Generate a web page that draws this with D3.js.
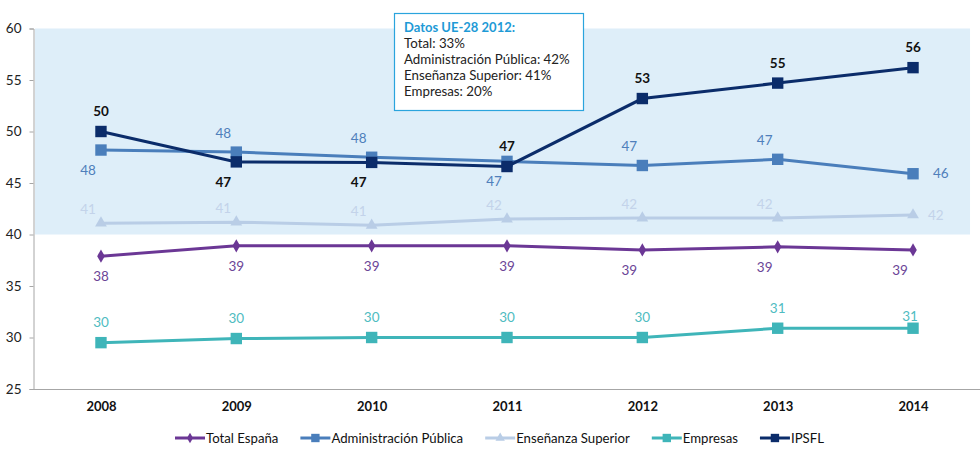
<!DOCTYPE html>
<html>
<head>
<meta charset="utf-8">
<script src="https://cdn.jsdelivr.net/npm/d3@7"></script>
<style>
body { margin: 0; background: #fff; }
svg text { font-family: Lato, "Open Sans", sans-serif; }
</style>
</head>
<body>
<script>
// chart data
var years = ["2008", "2009", "2010", "2011", "2012", "2013", "2014"];
var totalEspana = [37.9, 38.9, 38.9, 38.9, 38.5, 38.8, 38.5];
var adminPublica = [48.2, 48.0, 47.5, 47.1, 46.7, 47.3, 45.9];
var ensSuperior = [41.1, 41.2, 40.9, 41.5, 41.6, 41.6, 41.9];
var empresas = [29.5, 29.9, 30.0, 30.0, 30.0, 30.9, 30.9];
var ipsfl = [50.0, 47.05, 47.0, 46.6, 53.2, 54.7, 56.2];
var yTicks = [25, 30, 35, 40, 45, 50, 55, 60];
var boxTitle = "Datos UE-28 2012:";
var boxLines = ["Total: 33%", "Administración Pública: 42%", "Enseñanza Superior: 41%", "Empresas: 20%"];

// where each data label sits relative to its point
var labelPlace = {
	total: ["b", "b", "b", "b", "bl", "bl", "bl"],
	admin: ["bl", "tl", "tl", "bl", "tl", "tl", "r"],
	ens: ["tls", "tls", "tls", "tls", "tls", "tls", "rs"],
	emp: ["t", "t", "t", "t", "t", "t", "ts"],
	ipsfl: ["t", "bl", "bl", "t", "t", "t", "t"]
};
var offsets = {
	t: [0, -20], ts: [-3, -12], tl: [-13, -19], tls: [-13, -14],
	b: [0, 20], bl: [-13, 20], r: [20, 0], rs: [15, 0]
};

var series = [
	{key: "total", name: "Total España", values: totalEspana, color: "#6b3795", label: "#6b4597", shape: "diamond", bold: false},
	{key: "admin", name: "Administración Pública", values: adminPublica, color: "#4a7ebb", label: "#4f7fbb", shape: "square", bold: false},
	{key: "ens", name: "Enseñanza Superior", values: ensSuperior, color: "#b9cde6", label: "#c3d3ea", shape: "triangle", bold: false},
	{key: "emp", name: "Empresas", values: empresas, color: "#3fb5b9", label: "#4fbcc1", shape: "square", bold: false},
	{key: "ipsfl", name: "IPSFL", values: ipsfl, color: "#0b2c6a", label: "#111111", shape: "square", bold: true}
];

var width = 980, height = 456;

var svg = d3.select("body").append("svg")
	.attr("width", width)
	.attr("height", height);

var x = d3.scalePoint().domain(years).range([33.3, 980.7]).padding(0.5);
var y = d3.scaleLinear().domain([25, 60]).range([389, 28.5]);

// shaded band 40-60
svg.append("rect")
	.attr("x", 35)
	.attr("y", y(60))
	.attr("width", x("2014") + 57 - 35)
	.attr("height", y(40) - y(60))
	.attr("fill", "#deeef9");

// y axis
var yAxis = svg.append("g")
	.attr("transform", "translate(33.5,0)")
	.call(d3.axisLeft(y).tickValues(yTicks).tickSize(4).tickPadding(8));
yAxis.select(".domain").attr("stroke", "#a6a6a6");
yAxis.selectAll(".tick line").attr("stroke", "#a6a6a6");
yAxis.selectAll("text").attr("font-size", 13.5).attr("fill", "#222");

// x axis
var xAxis = svg.append("g")
	.attr("transform", "translate(0,389.5)")
	.call(d3.axisBottom(x).tickSize(0).tickPadding(12));
xAxis.select(".domain").attr("stroke", "#a6a6a6").attr("d", "M33.5,0H980");
xAxis.selectAll("text").attr("font-size", 13).attr("font-weight", "bold").attr("fill", "#111");

function markerPath(shape) {
	if (shape == "diamond") return d3.symbol(d3.symbolDiamond, 50)();
	if (shape == "triangle") return d3.symbol(d3.symbolTriangle, 60)();
	return d3.symbol(d3.symbolSquare, 130)();
}

var line = d3.line()
	.x(function(d, i){ return x(years[i]); })
	.y(function(d){ return y(d); });

series.forEach(function(s){
	var g = svg.append("g");
	g.append("path")
		.attr("d", line(s.values))
		.attr("fill", "none")
		.attr("stroke", s.color)
		.attr("stroke-width", 3);
	g.selectAll("path.m")
		.data(s.values)
		.enter()
		.append("path")
		.attr("class", "m")
		.attr("d", markerPath(s.shape))
		.attr("transform", function(d, i){ return "translate(" + x(years[i]) + "," + y(d) + ")"; })
		.attr("fill", s.color);
	g.selectAll("text")
		.data(s.values)
		.enter()
		.append("text")
		.attr("x", function(d, i){ return x(years[i]) + offsets[labelPlace[s.key][i]][0]; })
		.attr("y", function(d, i){ return y(d) + offsets[labelPlace[s.key][i]][1]; })
		.attr("dy", "0.35em")
		.attr("text-anchor", function(d, i){ return labelPlace[s.key][i].charAt(0) == "r" ? "start" : "middle"; })
		.attr("font-size", 13.5)
		.attr("font-weight", s.bold ? "bold" : "normal")
		.attr("fill", s.label)
		.text(function(d){ return Math.round(d); });
});

// EU box
var box = svg.append("g");
box.append("rect")
	.attr("x", 394.5).attr("y", 13.5)
	.attr("width", 189).attr("height", 97)
	.attr("fill", "#fff")
	.attr("stroke", "#2aa4dd")
	.attr("stroke-width", 1.2);
box.append("text")
	.attr("x", 404).attr("y", 32)
	.attr("font-family", "Roboto, sans-serif")
	.attr("font-size", 13)
	.attr("font-weight", "bold")
	.attr("fill", "#1e9ad6")
	.text(boxTitle);
box.selectAll("text.l")
	.data(boxLines)
	.enter()
	.append("text")
	.attr("class", "l")
	.attr("x", 404)
	.attr("y", function(d, i){ return 48 + i * 16; })
	.attr("font-family", "Roboto, sans-serif")
	.attr("font-size", 13.3)
	.attr("fill", "#222")
	.text(function(d){ return d; });

// legend
var legend = svg.append("g").attr("transform", "translate(0,438)");
var lx = 175;
series.forEach(function(s){
	var it = legend.append("g").attr("transform", "translate(" + lx + ",0)");
	it.append("line")
		.attr("x1", 0).attr("x2", 30)
		.attr("stroke", s.color).attr("stroke-width", 3);
	it.append("path")
		.attr("d", s.shape == "square" ? d3.symbol(d3.symbolSquare, 70)() : markerPath(s.shape))
		.attr("transform", "translate(15,0)" + (s.shape == "square" ? "" : " scale(0.8)"))
		.attr("fill", s.color);
	var t = it.append("text")
		.attr("x", 31).attr("dy", "0.35em")
		.attr("font-size", 13.2)
		.attr("fill", "#111")
		.text(s.name);
	lx += 31 + t.node().getComputedTextLength() + 22;
});
</script>
</body>
</html>
